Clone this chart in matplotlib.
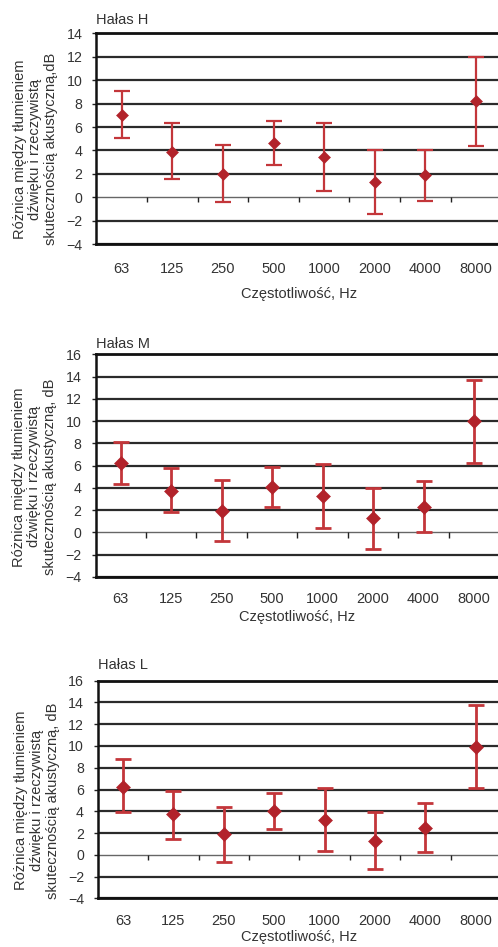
import matplotlib
matplotlib.use("Agg")
import matplotlib.pyplot as plt
import numpy as np

plt.rcParams['font.family'] = ['Liberation Sans', 'DejaVu Sans']
plt.rcParams['font.size'] = 10

freqs = ["63", "125", "250", "500", "1000", "2000", "4000", "8000"]

# Hałas H
h_mean = [7.05, 3.9, 2.0, 4.6, 3.45, 1.3, 1.9, 8.2]
h_upper = [9.1, 6.35, 4.5, 6.5, 6.35, 4.0, 4.0, 12.0]
h_lower = [5.1, 1.6, -0.4, 2.75, 0.55, -1.45, -0.3, 4.35]

# Hałas M
m_mean = [6.2, 3.75, 1.95, 4.1, 3.25, 1.3, 2.3, 10.0]
m_upper = [8.1, 5.75, 4.7, 5.9, 6.15, 3.95, 4.65, 13.65]
m_lower = [4.35, 1.8, -0.8, 2.3, 0.4, -1.5, 0.0, 6.25]

# Hałas L
l_mean = [6.25, 3.75, 1.9, 4.05, 3.2, 1.3, 2.5, 9.95]
l_upper = [8.8, 5.9, 4.35, 5.7, 6.1, 3.9, 4.75, 13.75]
l_lower = [3.9, 1.45, -0.65, 2.4, 0.35, -1.3, 0.3, 6.1]

titles = ["Hałas H", "Hałas M", "Hałas L"]
ymaxes = [14, 16, 16]
ylabels = ["Różnica między tłumieniem\ndźwięku i rzeczywistą\nskutecznością akustyczną,dB",
           "Różnica między tłumieniem\ndźwięku i rzeczywistą\nskutecznością akustyczną, dB",
           "Różnica między tłumieniem\ndźwięku i rzeczywistą\nskutecznością akustyczną, dB"]
series = [(h_mean, h_lower, h_upper), (m_mean, m_lower, m_upper), (l_mean, l_lower, l_upper)]

W, H = 498, 947
# pixel boxes: left, right, top, bottom
boxes = [(96.4, 501.2, 33.5, 244.0), (95.5, 499.2, 354.3, 577.0), (97.8, 500.9, 680.7, 898.3)]
title_pads = [6.5, 4.5, 8.5]
xtick_pads = [13, 11, 11]
xlabel_pads = [8, 3, 2]
msizes = [6.5, 7.2, 7.2]
ewidths = [1.6, 2.0, 2.0]

txt = '#333333'
fig = plt.figure(figsize=(W / 100, H / 100), dpi=100)

for i in range(3):
    l, r, t, b = boxes[i]
    ax = fig.add_axes([l / W, 1 - b / H, (r - l) / W, (b - t) / H])
    mean, lo, up = [np.array(s) for s in series[i]]
    x = np.arange(len(freqs))

    ax.errorbar(x, mean, yerr=[mean - lo, up - mean], fmt='none', ecolor='#c3363a',
                elinewidth=ewidths[i], capsize=6, capthick=ewidths[i], zorder=3)
    ax.plot(x, mean, 'D', color='#b2232b', ms=msizes[i], mew=0.4, zorder=4)

    ax.set_xlim(-0.5, len(freqs) - 0.5)
    ax.set_ylim(-4, ymaxes[i])
    ax.set_yticks(np.arange(-4, ymaxes[i] + 1, 2))
    ax.set_xticks(x)
    ax.set_xticklabels(freqs)
    ax.tick_params(axis='x', length=0, pad=xtick_pads[i], labelsize=10.5, colors=txt)
    ax.tick_params(axis='y', length=3, width=1, pad=7, labelsize=10.2, colors=txt)
    ax.tick_params(axis='y', color='#222222')

    ax.grid(axis='y', color='#2b2b2b', lw=1.6, zorder=1)
    ax.set_axisbelow(True)
    for yv, gl in zip(ax.get_yticks(), ax.get_ygridlines()):
        if yv == 0:
            gl.set_color('#666666')
            gl.set_linewidth(1.0)
    # small ticks on the zero line, between categories
    ax.vlines(np.arange(0.5, len(freqs) - 1), -0.42 * (ymaxes[i] + 4) / 18, 0,
              color='#222222', lw=1.0, zorder=2)

    for s in ['top', 'bottom', 'left']:
        ax.spines[s].set_color('#111111')
        ax.spines[s].set_linewidth(2.0)
    ax.spines['left'].set_linewidth(1.8)
    ax.spines['right'].set_visible(False)

    ax.set_title(titles[i], loc='left', fontsize=10.5, color=txt, pad=title_pads[i])
    ax.set_xlabel("Częstotliwość, Hz", fontsize=10.5, color=txt, labelpad=xlabel_pads[i])
    ax.set_ylabel(ylabels[i], fontsize=10.5, color=txt, linespacing=1.15)
    ax.yaxis.set_label_coords(-0.095, 0.45)

fig.savefig("out.png", dpi=100)
